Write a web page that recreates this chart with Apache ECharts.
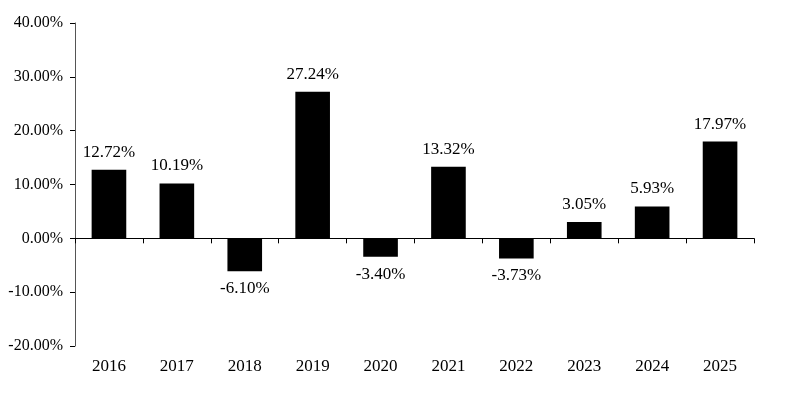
<!DOCTYPE html>
<html>
<head>
<meta charset="utf-8">
<script src="https://cdn.jsdelivr.net/npm/echarts@6/dist/echarts.min.js"></script>
<style>html,body{margin:0;padding:0;background:#fff;}#c{width:786px;height:405px;}</style>
</head>
<body>
<div id="c"></div>
<script>
const years = ['2016','2017','2018','2019','2020','2021','2022','2023','2024','2025'];
const returns = [12.72, 10.19, -6.10, 27.24, -3.40, 13.32, -3.73, 3.05, 5.93, 17.97];
const yMin = -20, yMax = 40, yStep = 10;

const font = 'Liberation Serif';
const chart = echarts.init(document.getElementById('c'), null, {renderer: 'canvas'});
chart.setOption({
  animation: false,
  backgroundColor: '#fff',
  grid: {left: 75, right: 32, top: 23, bottom: 59, containLabel: false},
  xAxis: [{
    type: 'category', data: years,
    axisLine: {onZero: true, lineStyle: {color: '#000', width: 1}},
    axisTick: {show: true, length: 5, lineStyle: {color: '#000'}},
    axisLabel: {show: false}
  }, {
    type: 'category', data: years, position: 'bottom',
    axisLine: {show: false, onZero: false},
    axisTick: {show: false},
    axisLabel: {margin: 12, fontFamily: font, fontSize: 17, color: '#000'}
  }],
  yAxis: {
    type: 'value', min: yMin, max: yMax, interval: yStep,
    axisLine: {show: true, lineStyle: {color: '#555', width: 1}},
    axisTick: {show: true, length: 5, lineStyle: {color: '#000'}},
    splitLine: {show: false},
    axisLabel: {margin: 12, fontFamily: font, fontSize: 16, color: '#000',
      formatter: v => v.toFixed(2) + '%'}
  },
  series: [{
    type: 'bar', xAxisIndex: 0,
    data: returns.map(v => ({value: v, label: {position: v < 0 ? 'bottom' : 'top'}})),
    barWidth: '51%',
    itemStyle: {color: '#000'},
    label: {
      show: true, fontFamily: font, fontSize: 17, color: '#000', distance: 9,
      formatter: p => p.value.toFixed(2) + '%'
    }
  }]
});
</script>
</body>
</html>
